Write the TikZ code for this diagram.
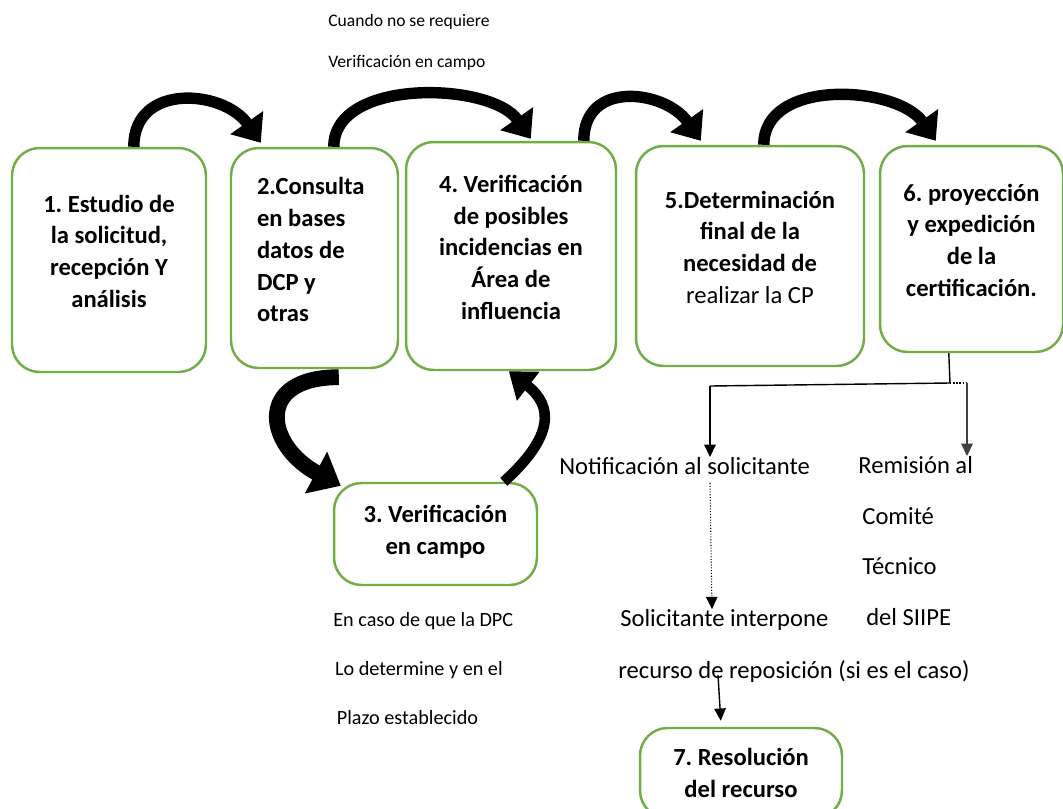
\documentclass[tikz,border=0pt]{standalone}
\usepackage{fontspec}
\setmainfont{Carlito}
\usepackage{tikz}
\usetikzlibrary{calc,arrows.meta}

\definecolor{boxgreen}{HTML}{70AD47}

\tikzset{
    stepbox/.style = {draw = boxgreen, line width = 1.4pt, rounded corners = .55cm,
                      align = flush center, inner sep = 0pt, text depth = 10pt,
                      font = \bfseries\fontsize{14}{18.1}\selectfont},
    bigarrow/.style = {line width = 6.5pt, -{Triangle[length = 14pt, width = 22pt]}},
    note/.style = {inner sep = 0pt, align = flush left, font = \fontsize{14}{28.9}\selectfont},
}

\begin{document}
\frenchspacing
\begin{tikzpicture}[x = .02cm, y = -.02cm, >={Triangle[length = 7pt, width = 6.5pt]}]
    \useasboundingbox (0, 0) rectangle (1063, 809);

    %%%%%%%%%% steps %%%%%%%%%%%%%%%%%%%
    \node [stepbox, minimum width = 3.88cm, minimum height = 4.48cm] (b1) at (109, 260)
        {1. Estudio de\\ la solicitud,\\ recepción Y\\ análisis};
    \node [stepbox, minimum width = 3.34cm, minimum height = 4.4cm, text width = 2.3cm, align = flush left, text depth = 82pt] (b2) at (314.5, 258)
        {2.Consulta\\ en bases\\ datos de\\ DCP y\\ otras};
    \node [stepbox, minimum width = 4.2cm, minimum height = 4.56cm] (b4) at (511, 256)
        {4. Verificación\\ de posibles\\ incidencias en\\ Área de\\ influencia};
    \node [stepbox, minimum width = 4.56cm, minimum height = 4.4cm] (b5) at (750, 256)
        {5.Determinación\\ final de la\\ necesidad de\\ {\mdseries realizar la CP}};
    \node [stepbox, minimum width = 3.66cm, minimum height = 4.12cm] (b6) at (971.5, 249)
        {6. proyección\\ y expedición\\ de la\\ certificación.};
    \node [stepbox, minimum width = 4.06cm, minimum height = 2.04cm, text depth = 5pt] (b3) at (435.5, 534)
        {3. Verificación\\ en campo};
    \node [stepbox, minimum width = 4.04cm, minimum height = 1.8cm, text depth = 0pt] (b7) at (741, 773)
        {7. Resolución\\ del recurso};

    %%%%%%%%%% texts %%%%%%%%%%%%%%%%%%%
    \node [note, anchor = north west, font = \fontsize{10}{23.2}\selectfont] (nocampo) at (328, 14)
        {Cuando no se requiere\\ Verificación en campo};
    \node [note, anchor = north west, font = \fontsize{11.5}{27.8}\selectfont] (plazo) at (333, 612)
        {En caso de que la DPC\\ \hspace*{1pt}Lo determine y en el\\ \hspace*{2pt}Plazo establecido};
    \node [note, anchor = west] (notif) at (559, 466) {Notificación al solicitante};
    \node [note, anchor = north west] (rem) at (858, 456)
        {Remisión al\\ \hspace*{2.3pt}Comité\\ \hspace*{2.3pt}Técnico\\ \hspace*{4.5pt}del SIIPE};
    \node [note, anchor = west] (sol1) at (620, 620) {Solicitante interpone};
    \node [note, anchor = west] (sol2) at (618, 671) {recurso de reposición (si es el caso)};

    %%%%%%%%%% big arrows %%%%%%%%%%%%%%%%%%%
    \draw [bigarrow] ($(b1.north west) + (123, 0)$) to [out = 90, in = 125, looseness = 1.3] ($(b2.north west) + (31, -4)$);
    \draw [bigarrow] ($(b2.north west) + (104, 0)$) to [out = 90, in = 125, looseness = .9]  ($(b4.north west) + (126, -2)$);
    \draw [bigarrow] ($(b4.north west) + (179, 0)$) to [out = 90, in = 125, looseness = 1.35] ($(b5.north west) + (66, -4)$);
    \draw [bigarrow] ($(b5.north west) + (129, 0)$) to [out = 90, in = 125, looseness = 1.0] ($(b6.north west) + (57, -4)$);

    \draw [line width = 9pt, -{Triangle[length = 16pt, width = 26pt]}]
        ($(b2.south west) + (109, 8)$) .. controls +(-85, 0) and +(-75, -40) .. ($(b3.north west) + (8, 4)$);
    \draw [line width = 6pt, -{Triangle[length = 14pt, width = 20pt]}]
        ($(b3.north west) + (171, 0)$) .. controls +(50, -45) and +(45, 35) .. ($(b4.south west) + (104, 0)$);

    %%%%%%%%%% thin links %%%%%%%%%%%%%%%%%%%
    \coordinate (fork) at (950, 383);
    \coordinate (forkL) at (710, 386);
    \coordinate (forkR) at (967, 383);
    \draw [line width = .8pt] ($(b6.south west) + (70, 0)$) -- (fork) -- (forkL);
    \draw [line width = .8pt, ->] (forkL) -- (forkL |- notif.north);
    \draw [line width = .8pt, densely dotted] (fork) -- (forkR);
    \draw [line width = .8pt, black!75, ->] (forkR) -- (forkR |- rem.north);
    \draw [line width = .6pt, densely dotted, ->] ($(forkL |- notif.south) + (0, 8)$) -- ($(forkL |- sol1.north) + (2, 0)$);
    \draw [line width = .8pt, ->] ($(sol2.west) + (100, 4)$) -- ($(b7.north west) + (82, -6)$);

\end{tikzpicture}
\end{document}
